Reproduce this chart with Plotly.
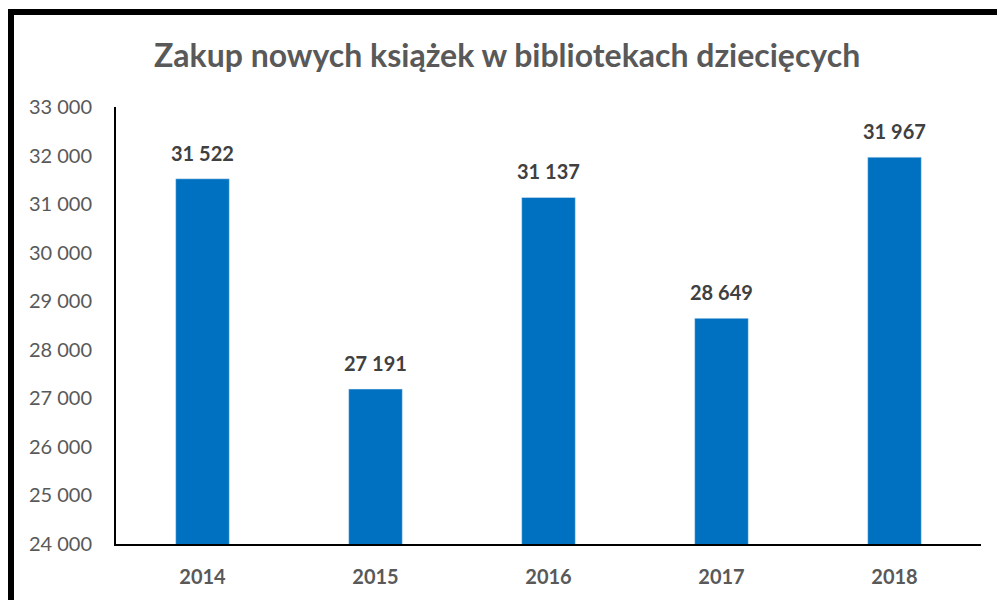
import plotly.graph_objects as go

years = ["2014", "2015", "2016", "2017", "2018"]
values = [31522, 27191, 31137, 28649, 31967]
labels = ["31 522", "27 191", "31 137", "28 649", "31 967"]
tick_vals = [24000, 25000, 26000, 27000, 28000, 29000, 30000, 31000, 32000, 33000]
tick_text = ["24 000", "25 000", "26 000", "27 000", "28 000",
             "29 000", "30 000", "31 000", "32 000", "33 000"]
title = "Zakup nowych książek w bibliotekach dziecięcych"

W, H = 997, 600
L, R, T, B = 116, 981, 107, 544
pw, ph = R - L, B - T

def px(x):
    return (x - L) / pw

def py(y):
    return (B - y) / ph

fig = go.Figure(go.Bar(
    x=years, y=values,
    marker_color="#0070C0", cliponaxis=False,
))

# category axis: annotation positions given as category indices
annotations = [dict(x=i, y=v, text=t, xref="x", yref="y", showarrow=False,
                    xanchor="center", yanchor="bottom", yshift=12,
                    font=dict(family="Lato", size=20, color="#404040", weight="bold"))
               for i, (v, t) in enumerate(zip(values, labels))]

annotations.append(dict(text=title, x=px(507), y=py(54), xref="paper", yref="paper",
                        showarrow=False, xanchor="center", yanchor="middle",
                        font=dict(family="Lato", size=32, color="#595959", weight="bold")))

fig.update_layout(
    width=W, height=H,
    margin=dict(l=L, r=W - R, t=T, b=H - B, pad=0, autoexpand=False),
    paper_bgcolor="white", plot_bgcolor="white",
    bargap=0.69, showlegend=False,
    font=dict(family="Lato"),
    xaxis=dict(type="category", showline=True, linecolor="black", linewidth=2,
               range=[-0.5, len(years) - 0.5], automargin=False,
               ticks="outside", ticklen=14, tickcolor="rgba(0,0,0,0)",
               tickfont=dict(family="Lato", size=20, color="#595959", weight="bold"),
               showgrid=False),
    yaxis=dict(range=[24000, 33000], tickvals=tick_vals, ticktext=tick_text,
               showline=True, linecolor="black", linewidth=2, automargin=False,
               ticks="outside", ticklen=18, tickcolor="rgba(0,0,0,0)",
               showgrid=False, zeroline=False,
               tickfont=dict(family="Lato", size=20, color="#595959")),
    annotations=annotations,
    shapes=[
        dict(type="line", xref="paper", yref="paper", x0=px(11), x1=px(W + 5), y0=py(12), y1=py(12),
             line=dict(color="black", width=6)),
        dict(type="line", xref="paper", yref="paper", x0=px(11), x1=px(11), y0=py(9), y1=py(H + 5),
             line=dict(color="black", width=6)),
    ],
)

fig.write_html("out.html")
